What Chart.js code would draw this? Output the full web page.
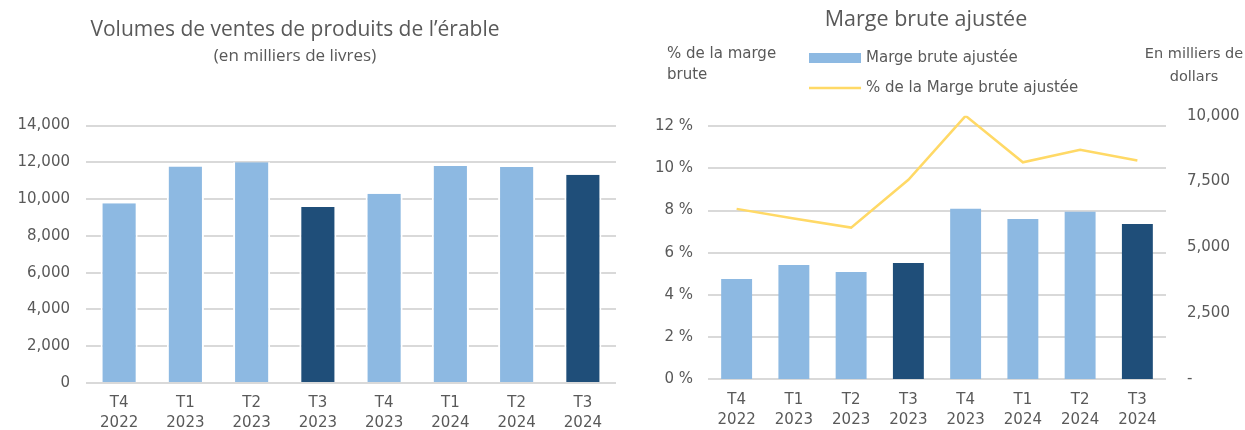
<!DOCTYPE html>
<html><head><meta charset="utf-8">
<script src="https://cdn.jsdelivr.net/npm/chart.js@4.4.1/dist/chart.umd.min.js"></script>
<style>
html,body{margin:0;padding:0;background:#fff;width:1245px;height:430px;overflow:hidden;position:relative}
#w1{position:absolute;left:-26px;top:0;width:646px;height:430px}
#w2{position:absolute;left:607px;top:0;width:638px;height:430px}
</style></head><body>
<div id="w1"><canvas id="c1"></canvas></div>
<div id="w2"><canvas id="c2"></canvas></div>
<script>
// ---- data ----
const categories = [['T4','2022'],['T1','2023'],['T2','2023'],['T3','2023'],['T4','2023'],['T1','2024'],['T2','2024'],['T3','2024']];
const volumeValues = [9770, 11770, 12000, 9570, 10300, 11800, 11750, 11330];
const margeValues = [3800, 4330, 4070, 4410, 6470, 6080, 6350, 5890];
const margePctValues = [8.08, 7.62, 7.19, 9.46, 12.5, 10.29, 10.89, 10.38];
const volumeTicks = [0, 2000, 4000, 6000, 8000, 10000, 12000, 14000];
const pctTicks = [0, 2, 4, 6, 8, 10, 12];
const dollarTicks = [0, 2500, 5000, 7500, 10000];
const volumeTitle = 'Volumes de ventes de produits de l\u2019érable';
const volumeSubtitle = '(en milliers de livres)';
const margeTitle = 'Marge brute ajustée';
const margeLabel = 'Marge brute ajustée';
const margePctLabel = '% de la Marge brute ajustée';
const leftAxisTitle = ['% de la marge', 'brute'];
const rightAxisTitle = ['En milliers de', 'dollars'];

// ---- style ----
const lightBlue = '#8DB9E2';
const darkBlue = '#1F4E79';
const yellow = '#FFD966';
const textColor = '#595959';
const gridColor = '#D9D9D9';
const barColors = categories.map(c => c[0] === 'T3' ? darkBlue : lightBlue);

Chart.defaults.font.family = '"DejaVu Sans", sans-serif';
Chart.defaults.color = textColor;
Chart.defaults.animation = false;

const fmt = v => v.toLocaleString('en-US');
const setTicks = arr => axis => { axis.ticks = arr.map(v => ({ value: v })); };

new Chart(document.getElementById('c1'), {
  type: 'bar',
  data: {
    labels: categories,
    datasets: [{
      label: 'Volumes',
      data: volumeValues,
      backgroundColor: barColors,
      borderColor: '#ffffff',
      borderWidth: { left: 2, right: 2, top: 0, bottom: 0 },
      borderSkipped: false,
      barPercentage: 0.56,
      categoryPercentage: 1
    }]
  },
  options: {
    responsive: true,
    maintainAspectRatio: false,
    layout: { padding: { left: 0, right: 4, top: 0, bottom: 0 } },
    plugins: {
      legend: { display: false },
      tooltip: { enabled: false },
      title: {
        display: true, text: volumeTitle, color: textColor,
        font: { family: '"Open Sans", sans-serif', size: 21, weight: 'normal' },
        padding: { top: 17, bottom: 4 }
      },
      subtitle: {
        display: true, text: volumeSubtitle, color: textColor,
        font: { family: '"Open Sans", sans-serif', size: 17, weight: 'normal' },
        padding: { top: 0, bottom: 59 }
      }
    },
    scales: {
      x: {
        grid: { display: false, drawTicks: false },
        border: { display: false },
        ticks: { color: textColor, font: { size: 15, lineHeight: 1.35 }, padding: 10, maxRotation: 0, autoSkip: false },
        afterFit: s => { s.height = 47; }
      },
      y: {
        min: 0, max: 14000,
        afterBuildTicks: setTicks(volumeTicks),
        grid: { color: gridColor, lineWidth: 2, drawTicks: false },
        border: { display: false },
        ticks: { color: textColor, font: { size: 15 }, padding: 16, callback: v => fmt(v) },
        afterFit: s => { s.width = 112; }
      }
    }
  }
});

const margeDecor = {
  id: 'margeDecor',
  afterDraw(chart) {
    const { ctx, chartArea: a } = chart;
    const [barDs, lineDs] = chart.data.datasets;
    ctx.save();
    ctx.fillStyle = textColor;
    ctx.textBaseline = 'middle';
    ctx.textAlign = 'left';
    ctx.font = '15px "DejaVu Sans", sans-serif';
    ctx.fillText(leftAxisTitle[0], a.left - 41, 54);
    ctx.fillText(leftAxisTitle[1], a.left - 41, 75);
    ctx.textAlign = 'center';
    ctx.font = '14.5px "DejaVu Sans", sans-serif';
    ctx.fillText(rightAxisTitle[0], a.right + 28, 54);
    ctx.fillText(rightAxisTitle[1], a.right + 28, 77);
    const lx = a.left + 101;
    ctx.fillStyle = lightBlue;
    ctx.fillRect(lx, 53, 52, 10);
    ctx.strokeStyle = lineDs.borderColor;
    ctx.lineWidth = 2.5;
    ctx.beginPath();
    ctx.moveTo(lx, 88);
    ctx.lineTo(lx + 52, 88);
    ctx.stroke();
    ctx.fillStyle = textColor;
    ctx.textAlign = 'left';
    ctx.font = '15px "DejaVu Sans", sans-serif';
    ctx.fillText(barDs.label, lx + 57, 58);
    ctx.fillText(lineDs.label, lx + 57, 88);
    ctx.restore();
  }
};

new Chart(document.getElementById('c2'), {
  data: {
    labels: categories,
    datasets: [{
      type: 'bar',
      label: margeLabel,
      data: margeValues,
      yAxisID: 'y1',
      backgroundColor: barColors,
      barPercentage: 0.54,
      categoryPercentage: 1,
      order: 2
    }, {
      type: 'line',
      label: margePctLabel,
      data: margePctValues,
      yAxisID: 'y',
      borderColor: yellow,
      backgroundColor: yellow,
      borderWidth: 2.5,
      pointRadius: 0,
      tension: 0,
      order: 1
    }]
  },
  options: {
    responsive: true,
    maintainAspectRatio: false,
    layout: { padding: 0 },
    plugins: {
      legend: { display: false },
      tooltip: { enabled: false },
      title: {
        display: true, text: margeTitle, color: textColor,
        font: { family: '"Open Sans", sans-serif', size: 21.5, weight: 'normal' },
        padding: { top: 7, bottom: 83 }
      }
    },
    scales: {
      x: {
        grid: { display: false, drawTicks: false },
        border: { display: false },
        ticks: { color: textColor, font: { size: 15, lineHeight: 1.35 }, padding: 11, maxRotation: 0, autoSkip: false },
        afterFit: s => { s.height = 51; }
      },
      y: {
        position: 'left',
        min: 0, max: 12.5,
        afterBuildTicks: setTicks(pctTicks),
        grid: { color: gridColor, lineWidth: 2, drawTicks: false },
        border: { display: false },
        ticks: { color: textColor, font: { size: 15 }, padding: 15, callback: v => v + ' %' },
        afterFit: s => { s.width = 101; }
      },
      y1: {
        position: 'right',
        min: 0, max: 10000,
        afterBuildTicks: setTicks(dollarTicks),
        grid: { display: false, drawTicks: false },
        border: { display: false },
        ticks: { color: textColor, font: { size: 15 }, padding: 21, callback: v => v === 0 ? '-' : fmt(v) },
        afterFit: s => { s.width = 79; }
      }
    }
  },
  plugins: [margeDecor]
});
</script>
</body></html>
